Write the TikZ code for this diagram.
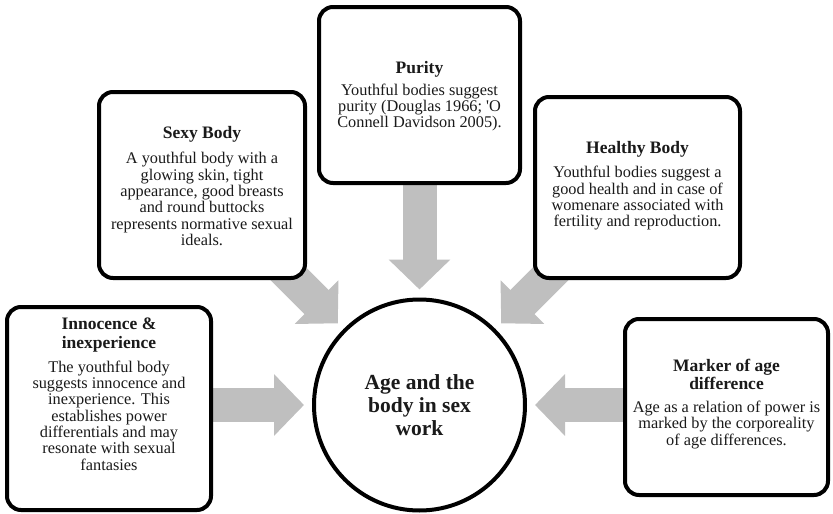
\documentclass[tikz,border=0pt]{standalone}
\usepackage{fontspec}
\setmainfont{Liberation Serif}
\usetikzlibrary{arrows.meta,calc,backgrounds}
\definecolor{arrowgray}{HTML}{BFBFBF}
\definecolor{inkblack}{HTML}{1A1A1A}
\newcommand{\ttl}[1]{{\fontsize{17.5}{16.3}\selectfont\bfseries #1}}
\begin{document}
\begin{tikzpicture}[x=1pt,y=-1pt,
  box/.style={draw=black, line width=4pt, rounded corners=14pt, fill=white, outer sep=0pt, inner sep=0pt},
  txt/.style={align=center, font=\fontsize{16.3}{16.3}\selectfont, text=inkblack, inner sep=0pt},
  hub/.style={circle, draw=black, line width=4pt, fill=white, minimum size=211pt, outer sep=0pt, inner sep=0pt,
    align=center, font=\fontsize{21.5}{23}\selectfont\bfseries, text=inkblack},
  blockarrow/.style={draw=arrowgray, line width=34pt, -{Triangle[length=30pt 0 0, width=60pt 0 0]}, shorten >=10pt},
]
\useasboundingbox (0,0) rectangle (833,514);

% hub
\node[hub] (circ) at (419.5,405) {Age and the\\body in sex\\work};

% boxes
\node[box, minimum width=204pt, minimum height=203pt] (inn) at (109,408.5) {};
\node[box, minimum width=206pt, minimum height=186pt] (sexy) at (202,185) {};
\node[box, minimum width=201pt, minimum height=176pt] (pur) at (419.5,95) {};
\node[box, minimum width=205pt, minimum height=181pt] (heal) at (637.5,187.5) {};
\node[box, minimum width=203pt, minimum height=176pt] (mark) at (726.5,407) {};

% texts
\node[txt] (tinn) at (109,394) {\ttl{Innocence \&}\\[2.5pt]\ttl{inexperience}\\[7.7pt]The youthful body\\suggests innocence and\\inexperience. This\\establishes power\\differentials and may\\resonate with sexual\\fantasies};
\node[txt] (tsexy) at (202,186) {\ttl{Sexy Body}\\[9pt]A youthful body with a\\glowing skin, tight\\appearance, good breasts\\and round buttocks\\represents normative sexual\\ideals.};
\node[txt] (tpur) at (419.5,96) {\ttl{Purity}\\[5.7pt]Youthful bodies suggest\\purity (Douglas 1966; \textquotesingle O\\Connell Davidson 2005).};
\node[txt] (theal) at (637.5,186) {\ttl{Healthy Body}\\[7.7pt]Youthful bodies suggest a\\good health and in case of\\womenare associated with\\fertility and reproduction.};
\node[txt] (tmark) at (726.5,404) {\ttl{Marker of age}\\[1.7pt]\ttl{difference}\\[6.7pt]Age as a relation of power is\\marked by the corporeality\\of age differences.};

% arrows (beneath boxes)
\begin{scope}[on background layer]
\draw[blockarrow] (pur.south) -- (circ.north);
\draw[blockarrow] (inn.east |- circ.center) -- (circ.west);
\draw[blockarrow] (mark.west |- circ.center) -- (circ.east);
\coordinate (sexystart) at ($(circ.north west)+(-80,-80)$);
\coordinate (healstart) at ($(circ.north east)+(80,-80)$);
\draw[blockarrow] (sexystart) -- (circ.north west);
\draw[blockarrow] (healstart) -- (circ.north east);
\end{scope}
\end{tikzpicture}
\end{document}
